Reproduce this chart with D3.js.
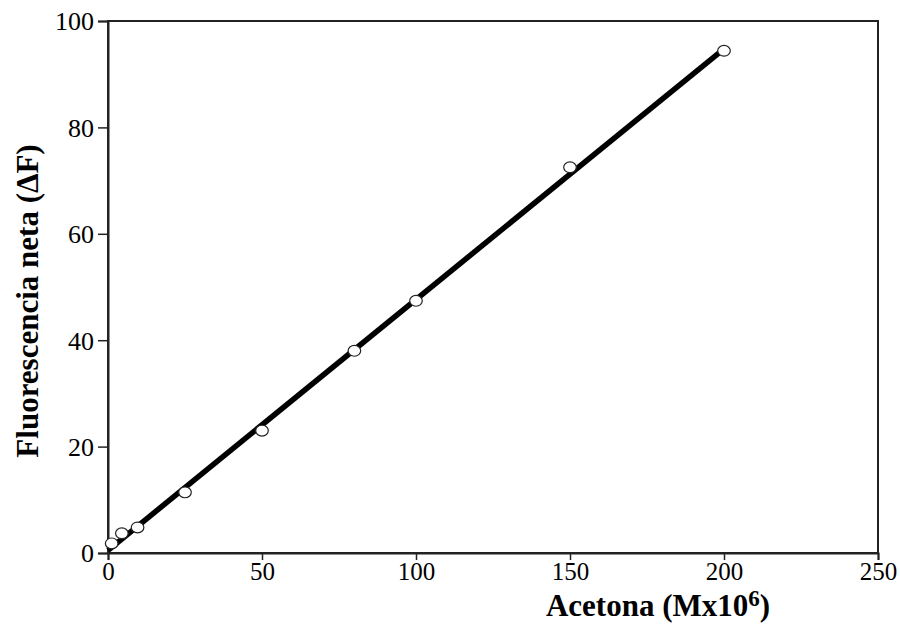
<!DOCTYPE html>
<html>
<head>
<meta charset="utf-8">
<script src="https://cdn.jsdelivr.net/npm/d3@7"></script>
<style>
  html, body { margin: 0; padding: 0; background: #fff; }
  svg { display: block; }
  text { font-family: "Liberation Serif", "Times New Roman", serif; fill: #000; }
</style>
</head>
<body>
<svg id="chart" width="900" height="630"></svg>
<script>
// Acetone concentration (M x 10^6) and net fluorescence (ΔF)
const acetona = [1.2, 4.5, 9.6, 25, 50, 80, 100, 150, 200];
const fluorescencia = [1.8, 3.7, 4.8, 11.4, 23.0, 38.0, 47.4, 72.5, 94.4];
const xTicks = [0, 50, 100, 150, 200, 250];
const yTicks = [0, 20, 40, 60, 80, 100];

const svg = d3.select("#chart");
const margin = { left: 108, right: 22, top: 21, bottom: 77 };
const W = 900, H = 630;

const x = d3.scaleLinear().domain([0, 250]).range([margin.left, W - margin.right]);
const y = d3.scaleLinear().domain([0, 100]).range([H - margin.bottom, margin.top]);

// plot frame
svg.append("rect")
  .attr("x", x(0)).attr("y", y(100))
  .attr("width", x(250) - x(0)).attr("height", y(0) - y(100))
  .attr("fill", "none").attr("stroke", "#222").attr("stroke-width", 2);

// axes
const xAxis = svg.append("g")
  .attr("transform", `translate(0,${y(0)})`)
  .call(d3.axisBottom(x).tickValues(xTicks).tickSize(7).tickPadding(2).tickFormat(d3.format("d")));
const yAxis = svg.append("g")
  .attr("transform", `translate(${x(0)},0)`)
  .call(d3.axisLeft(y).tickValues(yTicks).tickSize(10).tickPadding(4).tickFormat(d3.format("d")));
[xAxis, yAxis].forEach(g => {
  g.select(".domain").attr("stroke", "#222").attr("stroke-width", 2);
  g.selectAll(".tick line").attr("stroke", "#222").attr("stroke-width", 1.5);
  g.selectAll(".tick text")
    .style("font-family", "'Liberation Serif', serif")
    .style("font-size", "26px").attr("fill", "#000");
});
yAxis.selectAll(".tick text").attr("dy", "0.34em");
xAxis.selectAll(".tick text").style("font-size", "25px");

// least-squares fit line
const n = acetona.length;
const mx = d3.mean(acetona), my = d3.mean(fluorescencia);
let sxy = 0, sxx = 0;
for (let i = 0; i < n; i++) {
  sxy += (acetona[i] - mx) * (fluorescencia[i] - my);
  sxx += (acetona[i] - mx) ** 2;
}
const slope = sxy / sxx;
const intercept = my - slope * mx;
const fitX = [0, 198.5];
svg.append("path")
  .datum(fitX)
  .attr("d", d3.line().x(d => x(d)).y(d => y(slope * d + intercept)))
  .attr("stroke", "#000").attr("stroke-width", 5.5).attr("fill", "none");

// data markers
svg.append("g").selectAll("ellipse")
  .data(acetona.map((a, i) => [a, fluorescencia[i]]))
  .join("ellipse")
  .attr("cx", d => x(d[0])).attr("cy", d => y(d[1]))
  .attr("rx", 6.3).attr("ry", 5.4)
  .attr("fill", "#fff").attr("stroke", "#222").attr("stroke-width", 1.2);

// axis titles
const xt = svg.append("text")
  .attr("x", 658).attr("y", 616)
  .attr("text-anchor", "middle")
  .style("font-size", "31px").style("font-weight", "bold");
xt.append("tspan").text("Acetona (Mx10");
xt.append("tspan").attr("dy", -10).style("font-size", "23px").text("6");
xt.append("tspan").attr("dy", 10).text(")");

svg.append("text")
  .attr("transform", `translate(38,301) rotate(-90)`)
  .attr("text-anchor", "middle")
  .style("font-size", "31px").style("font-weight", "bold")
  .text("Fluorescencia neta (ΔF)");
</script>
</body>
</html>
